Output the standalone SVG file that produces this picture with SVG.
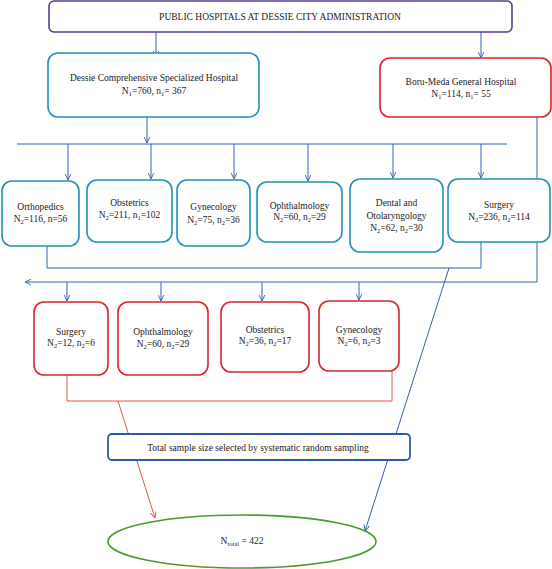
<svg xmlns="http://www.w3.org/2000/svg" width="552" height="569" viewBox="0 0 552 569">
<defs>
<style>
text{font-family:"Liberation Serif","Times New Roman",serif;font-size:9.5px;fill:#222;text-anchor:middle}
.sub{font-size:6.5px}
.teal{fill:#fff;stroke:#2192b8;stroke-width:1.6}
.red{fill:#fff;stroke:#d8272b;stroke-width:1.6}
.bl{fill:none;stroke:#3560b5;stroke-width:1}
.rl{fill:none;stroke:#e05555;stroke-width:1}
</style>
<marker id="ab" viewBox="0 0 10 10" refX="9.5" refY="5" markerWidth="7" markerHeight="7" orient="auto" markerUnits="userSpaceOnUse"><path d="M1,1 L9.5,5 L1,9" fill="none" stroke="#3560b5" stroke-width="1.3"/></marker>
<marker id="ar" viewBox="0 0 10 10" refX="9.5" refY="5" markerWidth="7" markerHeight="7" orient="auto" markerUnits="userSpaceOnUse"><path d="M1,1 L9.5,5 L1,9" fill="none" stroke="#e05555" stroke-width="1.3"/></marker>
</defs>
<rect width="552" height="569" fill="#fff"/>
<g id="connectors">
<path class="bl" d="M156,32 V57" marker-end="url(#ab)"/>
<path class="bl" d="M481,32 V58" stroke="#6b8fd0" marker-end="url(#ab)"/>
<path class="bl" d="M147,117 V143" marker-end="url(#ab)"/>
<path class="bl" d="M17,144 H507"/>
<path class="bl" d="M68,144 V180" marker-end="url(#ab)"/>
<path class="bl" d="M151,144 V179" marker-end="url(#ab)"/>
<path class="bl" d="M234,144 V179" marker-end="url(#ab)"/>
<path class="bl" d="M308,144 V181" marker-end="url(#ab)"/>
<path class="bl" d="M393,144 V178" marker-end="url(#ab)"/>
<path class="bl" d="M481,144 V178" marker-end="url(#ab)"/>
<path class="bl" d="M47,246 V268 H481 V242"/>
<path class="bl" d="M537,117 V282 H25" marker-end="url(#ab)"/>
<path class="bl" d="M67,282 V301" marker-end="url(#ab)"/>
<path class="bl" d="M161,282 V301" marker-end="url(#ab)"/>
<path class="bl" d="M262,282 V301" marker-end="url(#ab)"/>
<path class="bl" d="M359,282 V300" marker-end="url(#ab)"/>
<path class="bl" d="M449,268 L365,531" marker-end="url(#ab)"/>
<path class="rl" d="M67,375 V401 H392 V371"/>
<path class="rl" d="M118,401 L155,518" marker-end="url(#ar)"/>
</g>
<g id="n-top">
<rect x="49" y="1" width="463" height="31" rx="5" fill="#fff" stroke="#5b3d90" stroke-width="1.6"/>
<text x="280" y="19.5">PUBLIC HOSPITALS AT DESSIE CITY ADMINISTRATION</text>
</g>
<g id="n-dessie">
<rect class="teal" x="48" y="53" width="211" height="64" rx="10"/>
<text x="154" y="81">Dessie Comprehensive Specialized Hospital</text>
<text x="154" y="94">N<tspan class="sub" dy="2">1</tspan><tspan dy="-2">=760, n</tspan><tspan class="sub" dy="2">1</tspan><tspan dy="-2">= 367</tspan></text>
</g>
<g id="n-boru">
<rect class="red" x="380" y="58" width="171" height="59" rx="10"/>
<text x="461" y="85">Boru-Meda General Hospital</text>
<text x="461" y="97">N<tspan class="sub" dy="2">1</tspan><tspan dy="-2">=114, n</tspan><tspan class="sub" dy="2">1</tspan><tspan dy="-2">= 55</tspan></text>
</g>
<g id="n-ortho">
<rect class="teal" x="2" y="181" width="77" height="65" rx="10"/>
<text x="40.5" y="210">Orthopedics</text>
<text x="40.5" y="222">N<tspan class="sub" dy="2">2</tspan><tspan dy="-2">=116, n=56</tspan></text>
</g>
<g id="n-obst">
<rect class="teal" x="87" y="180" width="85" height="62" rx="10"/>
<text x="129.5" y="206">Obstetrics</text>
<text x="129.5" y="218">N<tspan class="sub" dy="2">2</tspan><tspan dy="-2">=211, n</tspan><tspan class="sub" dy="2">1</tspan><tspan dy="-2">=102</tspan></text>
</g>
<g id="n-gyn">
<rect class="teal" x="177" y="180" width="73" height="66" rx="10"/>
<text x="213.5" y="210">Gynecology</text>
<text x="213.5" y="223">N<tspan class="sub" dy="2">2</tspan><tspan dy="-2">=75, n</tspan><tspan class="sub" dy="2">2</tspan><tspan dy="-2">=36</tspan></text>
</g>
<g id="n-ophth">
<rect class="teal" x="257" y="182" width="85" height="60" rx="10"/>
<text x="299.5" y="209">Ophthalmology</text>
<text x="299.5" y="220">N<tspan class="sub" dy="2">2</tspan><tspan dy="-2">=60, n</tspan><tspan class="sub" dy="2">2</tspan><tspan dy="-2">=29</tspan></text>
</g>
<g id="n-dental">
<rect class="teal" x="350" y="179" width="93" height="73" rx="10"/>
<text x="396.5" y="206">Dental and</text>
<text x="396.5" y="218.5">Otolaryngology</text>
<text x="396.5" y="231">N<tspan class="sub" dy="2">2</tspan><tspan dy="-2">=62, n</tspan><tspan class="sub" dy="2">2</tspan><tspan dy="-2">=30</tspan></text>
</g>
<g id="n-surg">
<rect class="teal" x="448" y="179" width="102" height="63" rx="10"/>
<text x="499" y="208">Surgery</text>
<text x="499" y="220">N<tspan class="sub" dy="2">2</tspan><tspan dy="-2">=236, n</tspan><tspan class="sub" dy="2">2</tspan><tspan dy="-2">=114</tspan></text>
</g>
<g id="n-r-surg">
<rect class="red" x="34" y="302" width="74" height="73" rx="10"/>
<text x="71" y="335">Surgery</text>
<text x="71" y="346">N<tspan class="sub" dy="2">2</tspan><tspan dy="-2">=12, n</tspan><tspan class="sub" dy="2">2</tspan><tspan dy="-2">=6</tspan></text>
</g>
<g id="n-r-ophth">
<rect class="red" x="118" y="302" width="90" height="73" rx="10"/>
<text x="163" y="335">Ophthalmology</text>
<text x="163" y="347">N<tspan class="sub" dy="2">2</tspan><tspan dy="-2">=60, n</tspan><tspan class="sub" dy="2">2</tspan><tspan dy="-2">=29</tspan></text>
</g>
<g id="n-r-obst">
<rect class="red" x="221" y="302" width="88" height="70" rx="10"/>
<text x="265" y="333">Obstetrics</text>
<text x="265" y="344">N<tspan class="sub" dy="2">2</tspan><tspan dy="-2">=36, n</tspan><tspan class="sub" dy="2">2</tspan><tspan dy="-2">=17</tspan></text>
</g>
<g id="n-r-gyn">
<rect class="red" x="319" y="301" width="80" height="70" rx="10"/>
<text x="359" y="333">Gynecology</text>
<text x="359" y="344">N<tspan class="sub" dy="2">2</tspan><tspan dy="-2">=6, n</tspan><tspan class="sub" dy="2">2</tspan><tspan dy="-2">=3</tspan></text>
</g>
<g id="n-total-box">
<rect x="108" y="434" width="302" height="26" rx="4" fill="#fff" stroke="#2a5aa8" stroke-width="1.8"/>
<text x="258" y="450.5">Total sample size selected by systematic random sampling</text>
</g>
<g id="n-total">
<ellipse cx="242" cy="541.5" rx="134" ry="26.5" fill="#fff" stroke="#4a9a2c" stroke-width="1.6"/>
<text x="242" y="543.5">N<tspan class="sub" dy="2">total</tspan><tspan dy="-2"> = 422</tspan></text>
</g>
</svg>
